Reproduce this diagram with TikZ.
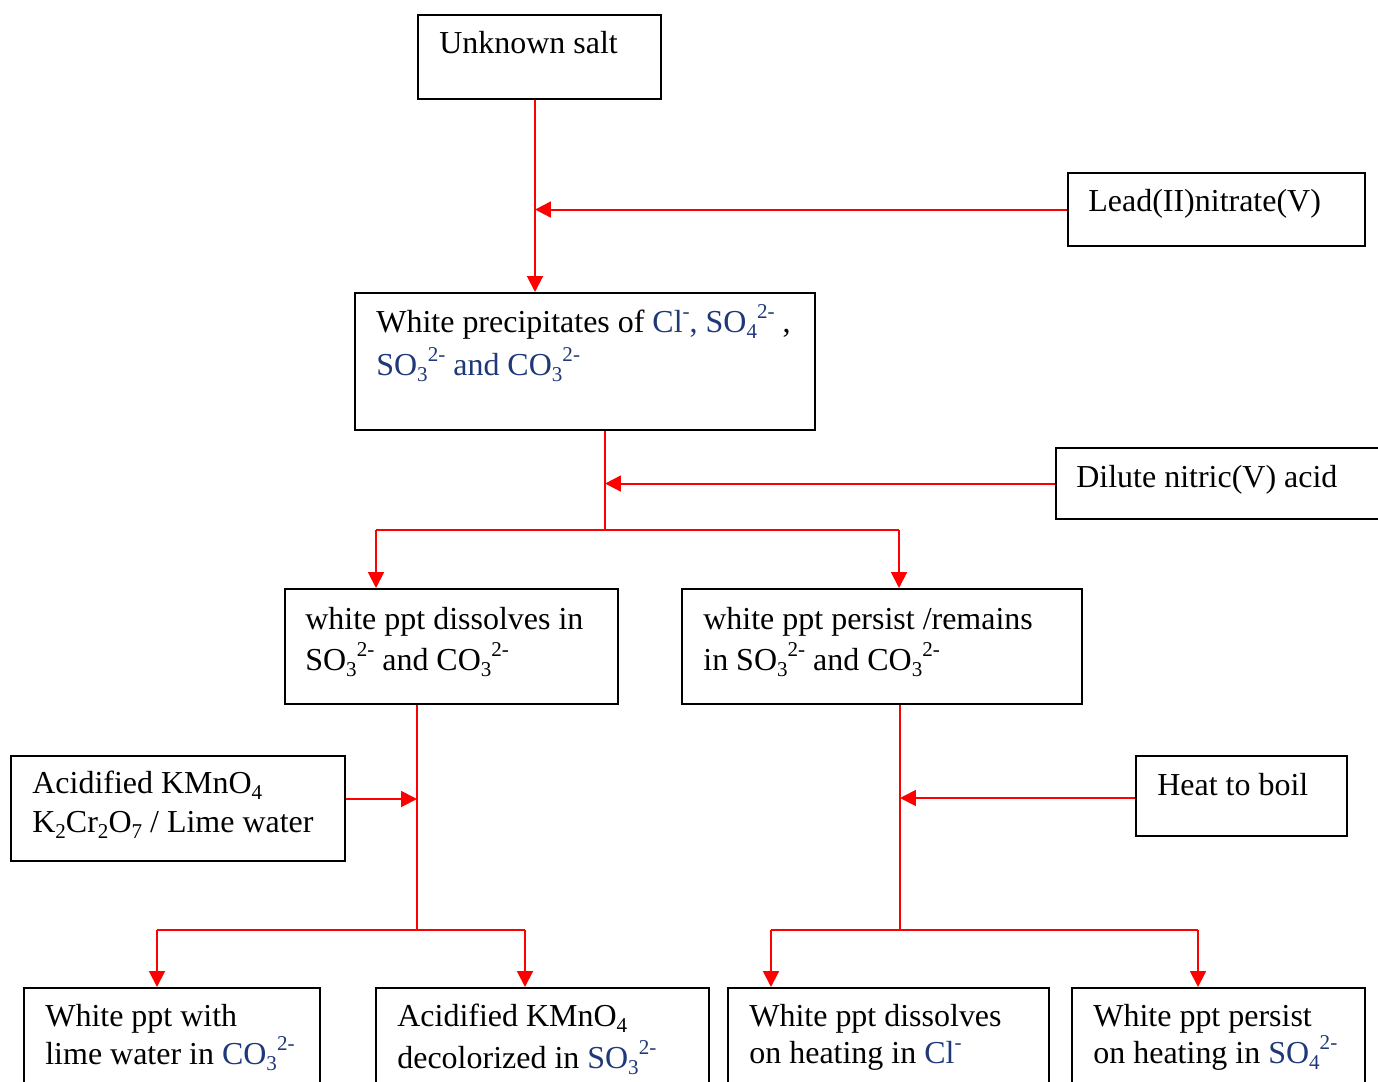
\documentclass[tikz,border=0pt]{standalone}
\usepackage{fontspec}
\setmainfont{Liberation Serif}
\usetikzlibrary{arrows.meta}
\definecolor{ionblue}{RGB}{31,56,120}
\definecolor{flowred}{RGB}{255,0,0}
\newcommand\chsub[1]{\raisebox{-0.2em}{\fontsize{12}{12}\selectfont #1}}
\newcommand\chsup[1]{\raisebox{0.42em}{\fontsize{12}{12}\selectfont #1}}
\newcommand\ion[1]{\textcolor{ionblue}{#1}}
\tikzset{
  box/.style={draw=black, line width=1.2pt, rectangle, inner sep=0pt, anchor=north west},
  txt/.style={anchor=base west, inner sep=0pt, font=\fontsize{18.2}{22}\selectfont},
  flow/.style={draw=flowred, line width=1.1pt},
  arr/.style={flow, -{Triangle[length=9pt, width=9pt]}},
}
\begin{document}
\begin{tikzpicture}[x=0.02cm, y=-0.02cm]
\useasboundingbox (0,0) rectangle (1378,1081);
\clip (0,0) rectangle (1378,1081);
% boxes
\node[box, minimum width=243*0.02cm, minimum height=84*0.02cm] (salt) at (417,14) {};
\node[box, minimum width=297*0.02cm, minimum height=73*0.02cm] (lead) at (1067,172) {};
\node[box, minimum width=460*0.02cm, minimum height=137*0.02cm] (prec) at (354,292) {};
\node[box, minimum width=350*0.02cm, minimum height=71*0.02cm] (dil) at (1055,447) {};
\node[box, minimum width=333*0.02cm, minimum height=115*0.02cm] (diss) at (284,588) {};
\node[box, minimum width=400*0.02cm, minimum height=115*0.02cm] (pers) at (681,588) {};
\node[box, minimum width=334*0.02cm, minimum height=105*0.02cm] (kmn) at (10,755) {};
\node[box, minimum width=211*0.02cm, minimum height=80*0.02cm] (heat) at (1135,755) {};
\node[box, minimum width=296*0.02cm, minimum height=130*0.02cm] (b1) at (23,987) {};
\node[box, minimum width=333*0.02cm, minimum height=130*0.02cm] (b2) at (375,987) {};
\node[box, minimum width=321*0.02cm, minimum height=130*0.02cm] (b3) at (727,987) {};
\node[box, minimum width=293*0.02cm, minimum height=130*0.02cm] (b4) at (1071,987) {};
% texts
\node[txt] (salt-t) at (439,54) {Unknown salt};
\node[txt] (lead-t) at (1088,212) {Lead(II)nitrate(V)};
\node[txt] (prec-t1) at (376,332) {White precipitates of \ion{Cl\chsup{-}, SO\chsub{4}\chsup{2-}} ,};
\node[txt] (prec-t2) at (376,375) {\ion{SO\chsub{3}\chsup{2-} and CO\chsub{3}\chsup{2-}}};
\node[txt] (dil-t) at (1076,487) {Dilute nitric(V) acid};
\node[txt] (diss-t1) at (305,629) {white ppt dissolves in};
\node[txt] (diss-t2) at (305,670) {SO\chsub{3}\chsup{2-} and CO\chsub{3}\chsup{2-}};
\node[txt] (pers-t1) at (703,629) {white ppt persist /remains};
\node[txt] (pers-t2) at (703,670) {in SO\chsub{3}\chsup{2-} and CO\chsub{3}\chsup{2-}};
\node[txt] (kmn-t1) at (32,793) {Acidified KMnO\chsub{4}};
\node[txt] (kmn-t2) at (32,832) {K\chsub{2}Cr\chsub{2}O\chsub{7} / Lime water};
\node[txt] (heat-t) at (1157,795) {Heat to boil};
\node[txt] (b1-t1) at (45,1026) {White ppt with};
\node[txt] (b1-t2) at (45,1064) {lime water in \ion{CO\chsub{3}\chsup{2-}}};
\node[txt] (b2-t1) at (397,1026) {Acidified KMnO\chsub{4}};
\node[txt] (b2-t2) at (397,1068) {decolorized in \ion{SO\chsub{3}\chsup{2-}}};
\node[txt] (b3-t1) at (749,1026) {White ppt dissolves};
\node[txt] (b3-t2) at (749,1063) {on heating in \ion{Cl\chsup{-}}};
\node[txt] (b4-t1) at (1093,1026) {White ppt persist};
\node[txt] (b4-t2) at (1093,1063) {on heating in \ion{SO\chsub{4}\chsup{2-}}};
% junction coordinates
\coordinate (ja) at (535,0);
\coordinate (jb) at (605,530);
\coordinate (jbl) at (376,530);
\coordinate (jbr) at (899,530);
\coordinate (jc) at (417,930);
\coordinate (jcl) at (157,930);
\coordinate (jcr) at (525,930);
\coordinate (jd) at (900,930);
\coordinate (jdl) at (771,930);
\coordinate (jdr) at (1198,930);
\coordinate (kin) at (0,799);
\coordinate (hin) at (0,798);
% connectors
\draw[arr] (salt.south -| ja) -- (prec.north -| ja);
\draw[arr] (lead.west) -- (lead.west -| ja);
\draw[flow] (prec.south -| jb) -- (jb);
\draw[arr] (dil.west) -- (dil.west -| jb);
\draw[flow] (jbl) -- (jbr);
\draw[arr] (jbl) -- (diss.north -| jbl);
\draw[arr] (jbr) -- (pers.north -| jbr);
\draw[flow] (diss.south -| jc) -- (jc);
\draw[arr] (kmn.east |- kin) -- (jc |- kin);
\draw[flow] (jcl) -- (jcr);
\draw[arr] (jcl) -- (b1.north -| jcl);
\draw[arr] (jcr) -- (b2.north -| jcr);
\draw[flow] (pers.south -| jd) -- (jd);
\draw[arr] (heat.west |- hin) -- (jd |- hin);
\draw[flow] (jdl) -- (jdr);
\draw[arr] (jdl) -- (b3.north -| jdl);
\draw[arr] (jdr) -- (b4.north -| jdr);
\end{tikzpicture}
\end{document}
